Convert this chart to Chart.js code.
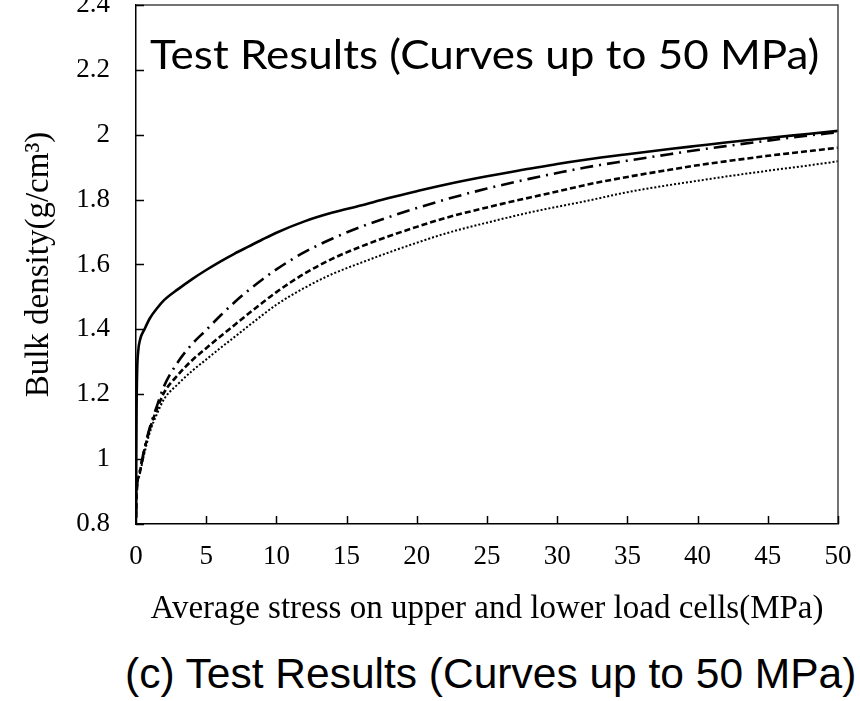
<!DOCTYPE html>
<html>
<head>
<meta charset="utf-8">
<script src="https://cdn.jsdelivr.net/npm/chart.js@4.4.1/dist/chart.umd.min.js"></script>
<style>
  html, body { margin: 0; padding: 0; background: #fff; }
  #wrap { position: relative; width: 860px; height: 701px; overflow: hidden; background: #fff; }
  #c { position: absolute; left: 0; top: 0; }
  #inner { position: absolute; left: 150px; top: 29px; font-family: Lato, "Open Sans", sans-serif; font-size: 41px; line-height: 1.2; color: #000; white-space: nowrap; transform: scaleX(1.073); transform-origin: 0 0; }
  #caption { position: absolute; left: 125px; top: 650px; font-family: "Liberation Sans", Arial, sans-serif; font-size: 42.5px; line-height: 1.117; color: #000; white-space: nowrap; }
</style>
</head>
<body>
<div id="wrap">
  <canvas id="c" width="860" height="640"></canvas>
  <div id="inner">Test Results (Curves up to 50 MPa)</div>
  <div id="caption">(c) Test Results (Curves up to 50 MPa)</div>
</div>
<script>
// ---- data ----
const xSolid = [0, 0.02, 0.04, 0.08, 0.15, 0.3, 0.6, 1, 1.5, 2, 3, 4, 5, 6, 7, 8, 9, 10, 12, 14, 16, 18, 20, 22, 25, 28, 30, 32, 35, 38, 40, 42, 45, 48, 50];
const ySolid = [0.82, 1.0, 1.15, 1.27, 1.33, 1.37, 1.40, 1.435, 1.465, 1.49, 1.524, 1.555, 1.583, 1.609, 1.633, 1.655, 1.677, 1.698, 1.733, 1.76, 1.782, 1.805, 1.826, 1.846, 1.872, 1.895, 1.91, 1.923, 1.94, 1.956, 1.966, 1.976, 1.99, 2.003, 2.012];

const xOther = [0, 0.05, 0.25, 0.5, 0.75, 1, 1.5, 2, 3, 4, 5, 6, 7, 8, 9, 10, 12, 14, 16, 18, 20, 22, 25, 28, 30, 32, 35, 38, 40, 42, 45, 48, 50];
const yDashDot = [0.82, 0.9, 0.957, 1.012, 1.06, 1.10, 1.165, 1.225, 1.30, 1.355, 1.398, 1.442, 1.483, 1.52, 1.554, 1.585, 1.638, 1.68, 1.716, 1.746, 1.774, 1.80, 1.834, 1.864, 1.882, 1.899, 1.92, 1.94, 1.953, 1.965, 1.982, 1.998, 2.008];
const yDashed = [0.82, 0.9, 0.955, 1.01, 1.055, 1.095, 1.155, 1.205, 1.26, 1.305, 1.342, 1.378, 1.413, 1.448, 1.482, 1.515, 1.572, 1.618, 1.655, 1.687, 1.716, 1.743, 1.776, 1.806, 1.825, 1.845, 1.87, 1.892, 1.906, 1.918, 1.935, 1.95, 1.96];
const yDotted = [0.82, 0.9, 0.95, 1.0, 1.045, 1.085, 1.14, 1.185, 1.232, 1.272, 1.307, 1.342, 1.376, 1.41, 1.444, 1.476, 1.528, 1.571, 1.605, 1.637, 1.667, 1.695, 1.729, 1.76, 1.778, 1.795, 1.823, 1.845, 1.858, 1.871, 1.889, 1.906, 1.918];

const xTitle = "Average stress on upper and lower load cells(MPa)";
const yTitle = "Bulk density(g/cm³)";

const pts = (xs, ys) => xs.map((x, i) => ({ x: x, y: ys[i] }));

const serif = "'Liberation Serif', 'Times New Roman', serif";

const frameAndTicks = {
  id: 'frameAndTicks',
  afterDraw(chart) {
    const { ctx, chartArea: a, scales } = chart;
    ctx.save();
    ctx.strokeStyle = '#444';
    ctx.lineWidth = 1.5;
    ctx.beginPath();
    ctx.moveTo(a.left, a.top);
    ctx.lineTo(a.right, a.top);
    ctx.lineTo(a.right, a.bottom);
    ctx.stroke();
    ctx.strokeStyle = '#000';
    ctx.lineWidth = 1.5;
    ctx.beginPath();
    scales.x.ticks.forEach(t => {
      const px = Math.round(scales.x.getPixelForValue(t.value)) + 0.5;
      ctx.moveTo(px, a.bottom);
      ctx.lineTo(px, a.bottom - 8);
    });
    scales.y.ticks.forEach(t => {
      const py = Math.round(scales.y.getPixelForValue(t.value)) + 0.5;
      ctx.moveTo(a.left, py);
      ctx.lineTo(a.left + 8, py);
    });
    ctx.stroke();
    ctx.restore();
  }
};

new Chart(document.getElementById('c'), {
  type: 'scatter',
  data: {
    datasets: [
      { label: 'A', data: pts(xSolid, ySolid), showLine: true, borderColor: '#000', borderWidth: 2.6, pointRadius: 0, cubicInterpolationMode: 'monotone' },
      { label: 'B', data: pts(xOther, yDashDot), showLine: true, borderColor: '#000', borderWidth: 2.6, borderDash: [13, 6, 2, 6], pointRadius: 0, cubicInterpolationMode: 'monotone' },
      { label: 'C', data: pts(xOther, yDashed), showLine: true, borderColor: '#000', borderWidth: 2.6, borderDash: [6, 3], pointRadius: 0, cubicInterpolationMode: 'monotone' },
      { label: 'D', data: pts(xOther, yDotted), showLine: true, borderColor: '#000', borderWidth: 2, borderDash: [2, 2], pointRadius: 0, cubicInterpolationMode: 'monotone' }
    ]
  },
  options: {
    responsive: false,
    animation: false,
    devicePixelRatio: 1,
    layout: { padding: { top: 5, right: 22, left: 0, bottom: 0 } },
    plugins: { legend: { display: false }, tooltip: { enabled: false }, title: { display: false } },
    scales: {
      x: {
        type: 'linear', min: 0, max: 50,
        ticks: { stepSize: 5, color: '#000', padding: 17, maxRotation: 0, font: { family: serif, size: 27 } },
        grid: { display: false, drawTicks: false, tickLength: 0 },
        border: { display: true, color: '#000', width: 1.5 },
        title: { display: true, text: xTitle, color: '#000', font: { family: serif, size: 33 }, padding: { top: 0, bottom: 11 } },
        afterFit(s) { s.height = 116; s.paddingLeft = 0; s.paddingRight = 0; }
      },
      y: {
        type: 'linear', min: 0.8, max: 2.4,
        ticks: { stepSize: 0.2, color: '#000', padding: 26, font: { family: serif, size: 27 },
                 callback: v => String(Math.round(v * 10) / 10) },
        grid: { display: false, drawTicks: false, tickLength: 0 },
        border: { display: true, color: '#000', width: 1.5 },
        title: { display: true, text: yTitle, color: '#000', font: { family: serif, size: 33 }, padding: { top: 20, bottom: 0 } },
        afterFit(s) { s.width = 136; s.paddingTop = 0; s.paddingBottom = 0; }
      }
    }
  },
  plugins: [frameAndTicks]
});
</script>
</body>
</html>
